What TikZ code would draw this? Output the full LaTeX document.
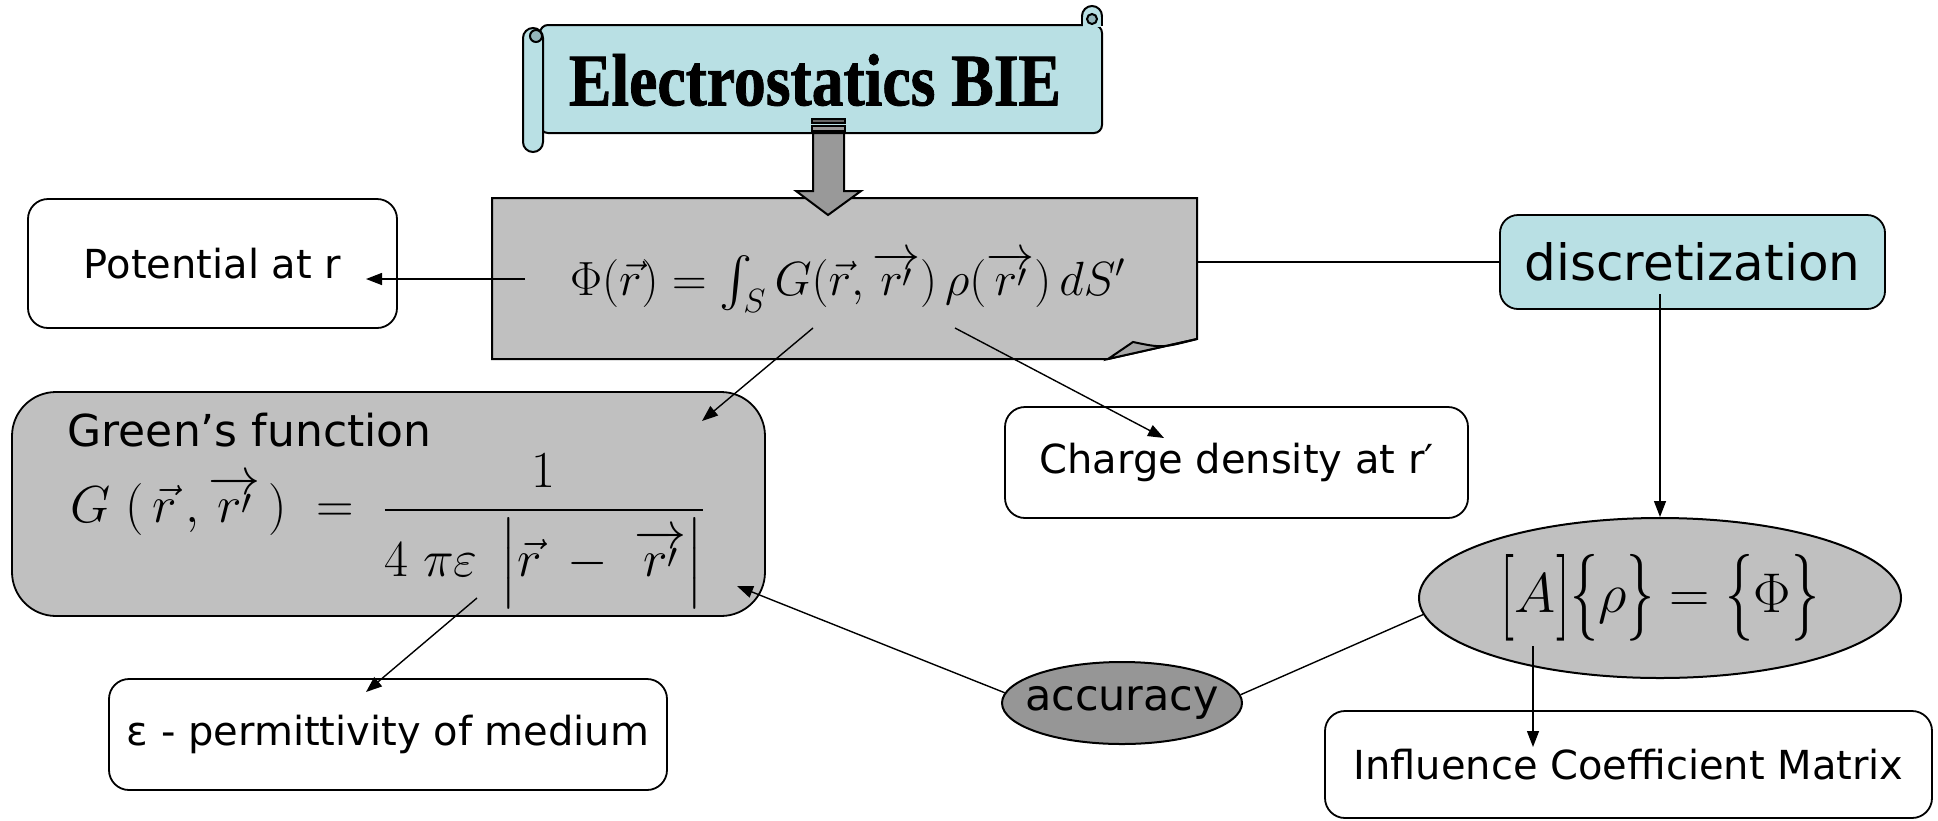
\documentclass[tikz,border=0pt]{standalone}
\usepackage{fix-cm}
\usepackage{amsmath}
\usepackage{graphicx}
\usepackage[no-math]{fontspec}
\setmainfont{DejaVu Sans}
\newfontfamily\titlefont[FakeBold=1.2]{Liberation Serif Bold}
\usetikzlibrary{arrows.meta,shapes.geometric}

\definecolor{scrollcyan}{RGB}{185,224,228}
\definecolor{curlcyan}{RGB}{148,182,188}
\definecolor{notegray}{RGB}{192,192,192}
\definecolor{folddark}{RGB}{168,168,168}
\definecolor{arrowgray}{RGB}{153,153,153}
\definecolor{accgray}{RGB}{150,150,150}

\newcommand\rprimevec{\overrightarrow{r\raisebox{0.15em}{$\scriptstyle\prime$}}}
\newcommand\tallbr[1]{\vcenter{\hbox{\scalebox{1}[1.55]{$#1$}}}}

\begin{document}
\begin{tikzpicture}[x=0.5pt,y=-0.5pt,line width=1pt,
  scroll/.style={fill=scrollcyan,draw=black},
  wbox/.style={draw,rounded corners=10pt,fill=white,inner sep=0pt,line width=0.9pt},
  arr/.style={-{Triangle[length=8pt,width=6pt]},line width=0.7pt},
  lnk/.style={line width=0.7pt},
  lbl/.style={font=\fontsize{20}{24}\selectfont}]
\useasboundingbox (0,0) rectangle (1938,820);

% title scroll
\filldraw[scroll,rounded corners=4pt] (540,25) rectangle (1102,133);
\filldraw[scroll] (1092,16) circle (10);
\fill[scrollcyan] (1083,17) rectangle (1101,27);
\draw (1082,16) -- (1082,25) (1102,16) -- (1102,26);
\filldraw[fill=curlcyan] (1092,19) circle (5);
\filldraw[scroll,rounded corners=5pt] (523,28) rectangle (543,152);
\filldraw[fill=curlcyan] (536,36) circle (6);
\node[font=\titlefont\fontsize{37}{44}\selectfont] (title) at (815,80)
  {\scalebox{0.86}[1]{Electrostatics BIE}};

% integral equation on a folded note
\filldraw[fill=notegray] (492,198) -- (1197,198) -- (1197,339) -- (1108,359) -- (492,359) -- cycle;
\filldraw[fill=folddark] (1108,359) -- (1133,342) .. controls (1162,348) .. (1197,339) -- cycle;
\node[font=\fontsize{24}{30}\selectfont] (eqn) at (848,282)
  {$\Phi(\vec{r})=\int_S G(\vec{r},\rprimevec)\,\rho(\rprimevec)\,dS'$};

% block arrow
\filldraw[fill=black!60,line width=0.8pt] (812,119) rectangle (845,123);
\filldraw[fill=arrowgray,line width=0.8pt] (812,126) rectangle (845,131);
\filldraw[fill=arrowgray] (813,133) -- (844,133) -- (844,191) -- (861,191)
  -- (828,215) -- (796,191) -- (813,191) -- cycle;

% Green's function
\node[wbox,fill=notegray,rounded corners=22pt,minimum width=376.5pt,minimum height=112pt] (green) at (388.5,504) {};
\node[anchor=west,font=\fontsize{22}{26}\selectfont] (greenlbl) at (60,430) {Green’s function};
\node[font=\fontsize{26}{32}\selectfont] (gfun) at (388,532)
  {$G\;(\,\vec{r}\,,\rprimevec\,)\;=\;\dfrac{1}{4\;\pi\varepsilon\;\left|\vphantom{\Big|}\vec{r}\;-\;\rprimevec\right|}$};

\foreach \name/\cx/\cy/\w/\h/\txt in {
  pot/212.5/263.5/184.5/64.5/{Potential at r},
  charge/1236.5/462.5/231.5/55.5/{Charge density at r′},
  perm/388/734.5/279/55.5/{ε - permittivity of medium},
  infl/1628.5/764.5/303.5/53.5/{Influence Coefficient Matrix}
}{
  \node[wbox,lbl,minimum width=\w pt,minimum height=\h pt] (\name) at (\cx,\cy) {\txt};
}

\node[wbox,fill=scrollcyan,rounded corners=9pt,font=\fontsize{25}{30}\selectfont,
  minimum width=192.5pt,minimum height=47pt] (disc) at (1692.5,262) {discretization};
\node[ellipse,draw,fill=notegray,inner sep=0pt,minimum width=241pt,minimum height=80pt,
  font=\fontsize{28}{34}\selectfont] (sys) at (1660,598)
  {$\tallbr{[}A\tallbr{]}\tallbr{\{}\rho\tallbr{\}}=\tallbr{\{}\Phi\tallbr{\}}$};
\node[ellipse,draw,fill=accgray,inner xsep=-9pt,inner ysep=0pt,minimum width=120pt,minimum height=41pt,
  font=\fontsize{21.5}{26}\selectfont] (acc) at (1122,703) {accuracy};

% connector ends
\coordinate (eqnleft) at (525,279);
\coordinate (potin) at (366,279);
\coordinate (eqnG) at (813,328);
\coordinate (greenin) at (702,421);
\coordinate (eqnrho) at (955,328);
\coordinate (chargein) at (1164,438);
\coordinate (noteright) at (1197,262);
\coordinate (discout) at (1660,294);
\coordinate (sysA) at (1533,646);
\coordinate (inflin) at (1533,747);
\coordinate (greenacc) at (737,586);
\coordinate (gden) at (477,598);
\coordinate (permin) at (366,692);

\draw[arr] (eqnleft) -- (potin);
\draw[arr] (eqnG) -- (greenin);
\draw[arr] (eqnrho) -- (chargein);
\draw[lnk] (noteright) -- (disc.west);
\draw[arr] (discout) -- (sys.north);
\draw[arr] (sysA) -- (inflin);
\draw[lnk] (acc.4) -- (sys.184);
\draw[arr] (acc.175) -- (greenacc);
\draw[arr] (gden) -- (permin);
\end{tikzpicture}
\end{document}
